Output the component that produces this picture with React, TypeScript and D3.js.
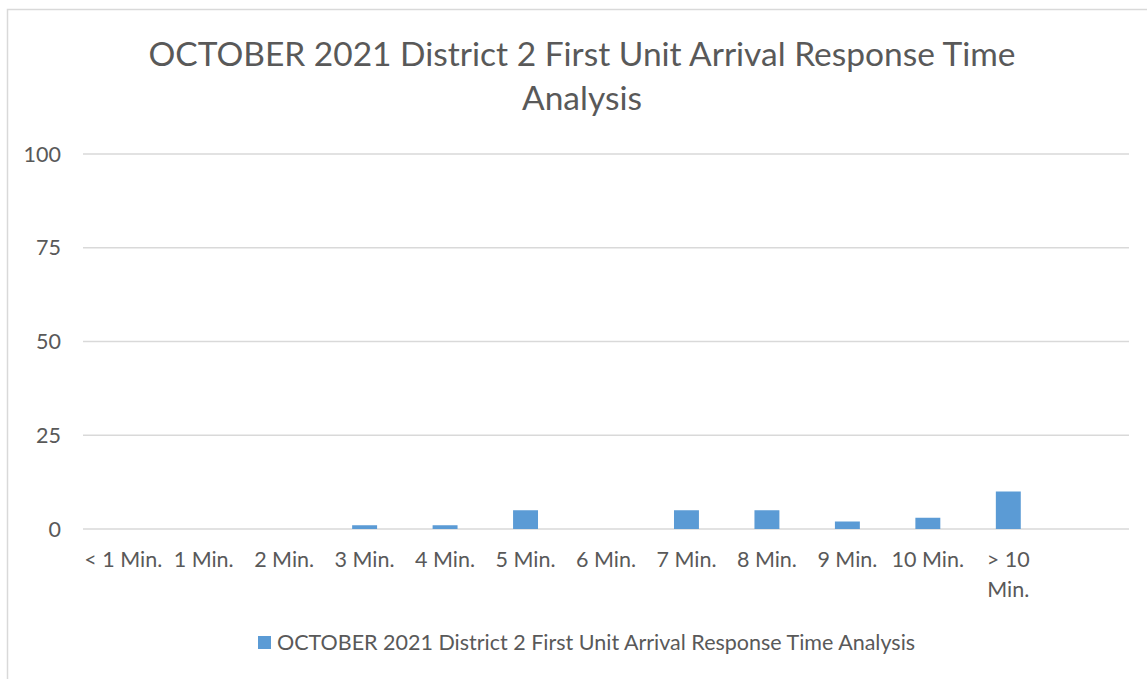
import React, { useRef, useEffect } from "react";
import * as d3 from "d3";

// chart data
const categories = [
  "< 1 Min.",
  "1 Min.",
  "2 Min.",
  "3 Min.",
  "4 Min.",
  "5 Min.",
  "6 Min.",
  "7 Min.",
  "8 Min.",
  "9 Min.",
  "10 Min.",
  "> 10 Min.",
  "",
];
const values = [0, 0, 0, 1, 1, 5, 0, 5, 5, 2, 3, 10, null];
const yTicks = [0, 25, 50, 75, 100];
const titleLines = [
  "OCTOBER 2021 District 2 First Unit Arrival Response Time",
  "Analysis",
];
const seriesName =
  "OCTOBER 2021 District 2 First Unit Arrival Response Time Analysis";

const W = 1147;
const H = 679;
const FONT = "Lato, 'Open Sans', sans-serif";
const TEXT = "#595959";
const LABEL_SIZE = 21.5;

const App = () => {
  const ref = useRef(null);

  useEffect(() => {
    if (!ref.current) return;
    const svg = d3.select(ref.current);
    svg.selectAll("*").remove();

    const margins = { left: 83, right: W - 1129, top: 154, bottom: H - 529 };

    // chart area border
    svg
      .append("rect")
      .attr("x", 7.5)
      .attr("y", 9.5)
      .attr("width", W + 20)
      .attr("height", H + 20)
      .attr("fill", "white")
      .attr("stroke", "#d9d9d9")
      .attr("stroke-width", 1.5);

    // title
    svg
      .append("g")
      .selectAll("text")
      .data(titleLines)
      .join("text")
      .attr("x", 582)
      .attr("y", (d, i) => 66 + i * 44)
      .attr("text-anchor", "middle")
      .attr("font-family", FONT)
      .attr("font-size", 33.5)
      .attr("fill", TEXT)
      .text((d) => d);

    const x = d3
      .scaleBand()
      .domain(d3.range(categories.length).map(String))
      .range([margins.left, W - margins.right])
      .paddingInner(0.69)
      .paddingOuter(0.345);

    const y = d3
      .scaleLinear()
      .domain([0, 100])
      .range([H - margins.bottom, margins.top]);

    // gridlines
    svg
      .append("g")
      .selectAll("line")
      .data(yTicks)
      .join("line")
      .attr("x1", margins.left)
      .attr("x2", W - margins.right)
      .attr("y1", (d) => y(d))
      .attr("y2", (d) => y(d))
      .attr("stroke", "#d9d9d9")
      .attr("stroke-width", 1.3);

    // y tick labels
    svg
      .append("g")
      .selectAll("text")
      .data(yTicks)
      .join("text")
      .attr("x", 61)
      .attr("y", (d) => y(d))
      .attr("dy", "0.36em")
      .attr("text-anchor", "end")
      .attr("font-family", FONT)
      .attr("font-size", LABEL_SIZE)
      .attr("fill", TEXT)
      .text((d) => d);

    // bars
    svg
      .append("g")
      .selectAll("rect")
      .data(values.map((v, i) => ({ v, i })).filter((d) => d.v))
      .join("rect")
      .attr("x", (d) => x(String(d.i)))
      .attr("width", x.bandwidth())
      .attr("y", (d) => y(d.v))
      .attr("height", (d) => y(0) - y(d.v))
      .attr("fill", "#5b9bd5");

    // x labels (wrap "> 10 Min." onto two lines like the original)
    const xl = svg
      .append("g")
      .selectAll("text")
      .data(categories)
      .join("text")
      .attr("x", (d, i) => x(String(i)) + x.bandwidth() / 2)
      .attr("y", 567)
      .attr("text-anchor", "middle")
      .attr("font-family", FONT)
      .attr("font-size", LABEL_SIZE)
      .attr("fill", TEXT);
    xl.each(function (d) {
      const t = d3.select(this);
      const parts = d.startsWith(">") ? ["> 10", "Min."] : [d];
      parts.forEach((p, k) => {
        t.append("tspan")
          .attr("x", t.attr("x"))
          .attr("dy", k === 0 ? 0 : 30)
          .text(p);
      });
    });

    // legend
    const lg = svg.append("g");
    lg.append("rect")
      .attr("x", 258)
      .attr("y", 636)
      .attr("width", 13)
      .attr("height", 13)
      .attr("fill", "#5b9bd5");
    lg.append("text")
      .attr("x", 277)
      .attr("y", 650)
      .attr("font-family", FONT)
      .attr("font-size", LABEL_SIZE)
      .attr("fill", TEXT)
      .text(seriesName);
  }, []);

  return (
    <svg
      ref={ref}
      width={W}
      height={H}
      style={{ position: "absolute", left: 0, top: 0, background: "white" }}
    />
  );
};

export default App;
